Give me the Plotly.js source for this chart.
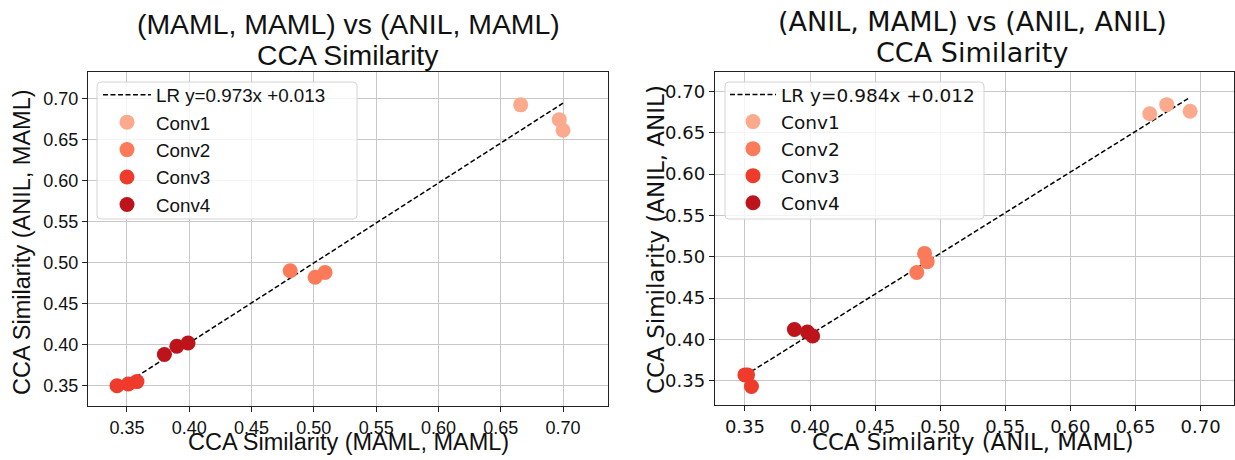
<!DOCTYPE html>
<html>
<head>
<meta charset="utf-8">
<script src="https://cdn.plot.ly/plotly-3.0.1.min.js"></script>
<style>html,body{margin:0;padding:0;background:#fff;}#chart{width:1235px;height:460px;}</style>
</head>
<body>
<div id="chart"></div>
<script>
// ---- data ----
const layerNames = ['Conv1', 'Conv2', 'Conv3', 'Conv4'];
const layerColors = ['#fcaa8e', '#fb7a5a', '#ef3b2c', '#bc141a'];
// CCA similarity (MAML, MAML), three runs per layer
const simMamlMaml = [[0.666, 0.697, 0.700], [0.481, 0.501, 0.509], [0.342, 0.351, 0.358], [0.380, 0.390, 0.399]];
// CCA similarity (ANIL, MAML)
const simAnilMaml = [[0.692, 0.674, 0.661], [0.490, 0.482, 0.488], [0.350, 0.352, 0.355], [0.388, 0.398, 0.402]];
// CCA similarity (ANIL, ANIL)
const simAnilAnil = [[0.676, 0.684, 0.673], [0.494, 0.481, 0.504], [0.357, 0.357, 0.343], [0.412, 0.409, 0.404]];
// linear regression fits (from legend)
const lrLeft = {slope: 0.973, intercept: 0.013};
const lrRight = {slope: 0.984, intercept: 0.012};
const titleLeft = ['(MAML, MAML) vs (ANIL, MAML)', 'CCA Similarity'];
const titleRight = ['(ANIL, MAML) vs (ANIL, ANIL)', 'CCA Similarity'];
const xLabelLeft = 'CCA Similarity (MAML, MAML)';
const yLabelLeft = 'CCA Similarity (ANIL, MAML)';
const xLabelRight = 'CCA Similarity (ANIL, MAML)';
const yLabelRight = 'CCA Similarity (ANIL, ANIL)';

// ---- build ----
const fontL = 'Liberation Sans, Arial, sans-serif';
const fontR = 'DejaVu Sans, sans-serif';
const traces = [];
function lrTrace(xs, fit, xa, ya, leg) {
  const flat = xs.flat();
  const x0 = Math.min(...flat), x1 = Math.max(...flat);
  return {
    x: [x0, x1], y: [fit.slope * x0 + fit.intercept, fit.slope * x1 + fit.intercept],
    mode: 'lines', type: 'scatter', xaxis: xa, yaxis: ya, legend: leg,
    name: 'LR y=' + fit.slope.toFixed(3) + 'x +' + fit.intercept.toFixed(3),
    line: {color: '#000', width: 1.5, dash: '5px,2.5px'}, hoverinfo: 'skip'
  };
}
traces.push(lrTrace(simMamlMaml, lrLeft, 'x', 'y', 'legend'));
layerNames.forEach((n, i) => {
  traces.push({x: simMamlMaml[i], y: simAnilMaml[i], mode: 'markers', type: 'scatter',
    xaxis: 'x', yaxis: 'y', legend: 'legend', name: n,
    marker: {color: layerColors[i], size: 15}});
});
traces.push(lrTrace(simAnilMaml, lrRight, 'x2', 'y2', 'legend2'));
layerNames.forEach((n, i) => {
  traces.push({x: simAnilMaml[i], y: simAnilAnil[i], mode: 'markers', type: 'scatter',
    xaxis: 'x2', yaxis: 'y2', legend: 'legend2', name: n,
    marker: {color: layerColors[i], size: 15}});
});

function axis(fam, domain, range, anchor) {
  return {
    domain: domain, range: range, anchor: anchor, dtick: 0.05, tick0: 0, tickformat: '.2f',
    showline: true, mirror: true, linecolor: '#222', linewidth: 1.2,
    ticks: 'outside', ticklen: 5, tickcolor: '#222', tickwidth: 1,
    showgrid: true, gridcolor: '#c8c8c8', gridwidth: 1, zeroline: false,
    tickfont: {family: fam, size: 18, color: '#111'},
    automargin: false
  };
}
const W = 1235, H = 460;
function ann(text, px, py, fam, size, angle) {
  return {text: text, x: px / W, y: 1 - py / H, xref: 'paper', yref: 'paper', showarrow: false,
    xanchor: 'center', yanchor: 'middle', textangle: angle || 0,
    font: {family: fam, size: size, color: '#111'}};
}
function legBox(x0, y0, x1, y1) {
  const r = 4;
  const X0 = x0 / W, X1 = x1 / W, Y0 = 1 - y0 / H, Y1 = 1 - y1 / H, rx = r / W, ry = r / H;
  return {type: 'path', xref: 'paper', yref: 'paper', layer: 'above',
    path: `M ${X0 + rx} ${Y0} L ${X1 - rx} ${Y0} Q ${X1} ${Y0} ${X1} ${Y0 - ry} L ${X1} ${Y1 + ry} Q ${X1} ${Y1} ${X1 - rx} ${Y1} L ${X0 + rx} ${Y1} Q ${X0} ${Y1} ${X0} ${Y1 + ry} L ${X0} ${Y0 - ry} Q ${X0} ${Y0} ${X0 + rx} ${Y0} Z`,
    fillcolor: 'rgba(255,255,255,0.8)', line: {color: '#d4d4d4', width: 1}};
}
const layout = {
  width: W, height: H, margin: {l: 0, r: 0, t: 0, b: 0},
  paper_bgcolor: '#fff', plot_bgcolor: '#fff', hovermode: false,
  xaxis: axis(fontL, [88 / W, 608 / W], [0.3187, 0.7361], 'y'),
  yaxis: axis(fontL, [1 - 406 / H, 1 - 72 / H], [0.3253, 0.732], 'x'),
  xaxis2: axis(fontR, [715 / W, 0.9995], [0.327, 0.726], 'y2'),
  yaxis2: axis(fontR, [1 - 405 / H, 1 - 72 / H], [0.3206, 0.7235], 'x2'),
  legend: {x: 98 / W, y: 1 - 76 / H, xanchor: 'left', yanchor: 'top', itemwidth: 48,
    bgcolor: 'rgba(0,0,0,0)', borderwidth: 0,
    font: {family: fontL, size: 18.8, color: '#111'}},
  legend2: {x: 725 / W, y: 1 - 76 / H, xanchor: 'left', yanchor: 'top', itemwidth: 46,
    bgcolor: 'rgba(0,0,0,0)', borderwidth: 0,
    font: {family: fontR, size: 18.5, color: '#111'}},
  shapes: [legBox(97, 82, 357, 219), legBox(725, 82, 984, 219)],
  annotations: [
    ann(titleLeft[0], 348, 24, fontL, 28.4), ann(titleLeft[1], 348, 55, fontL, 28.4),
    ann(titleRight[0], 972, 22, fontR, 27), ann(titleRight[1], 972, 52, fontR, 27),
    ann(xLabelLeft, 348, 442, fontL, 23.5), ann(yLabelLeft, 22, 242, fontL, 23.5, -90),
    ann(xLabelRight, 973, 442, fontR, 22.8), ann(yLabelRight, 656, 240, fontR, 23, -90)
  ]
};
Plotly.newPlot('chart', traces, layout, {staticPlot: true, displayModeBar: false});
</script>
</body>
</html>
